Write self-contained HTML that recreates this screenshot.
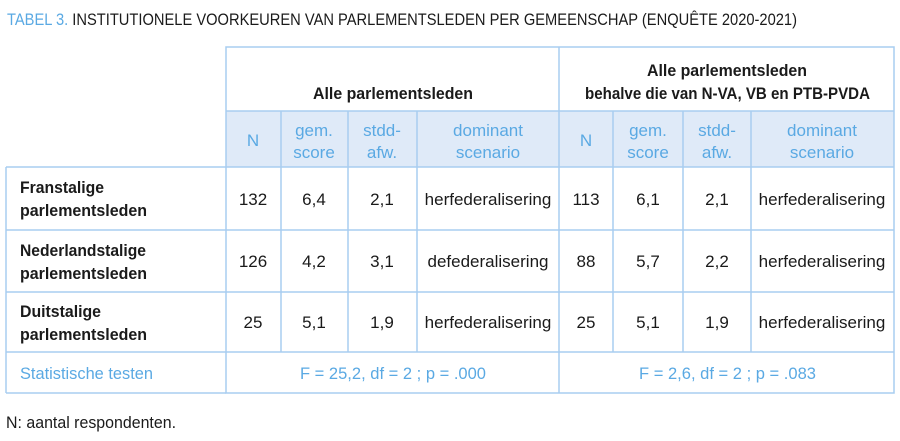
<!DOCTYPE html>
<html><head><meta charset="utf-8"><style>
html,body{margin:0;padding:0;background:#fff;width:900px;height:441px;overflow:hidden}
svg{display:block}
text{font-family:"Liberation Sans Narrow","Liberation Sans",sans-serif;font-size:17px;fill:#1a1a1a}
.b{fill:#5aa9e3}
.m{text-anchor:middle}
.h{font-weight:bold}
</style></head><body>
<svg width="900" height="441" viewBox="0 0 900 441">
<text x="7" y="25" textLength="790" lengthAdjust="spacingAndGlyphs" font-size="20"><tspan class="b">TABEL 3.</tspan> INSTITUTIONELE VOORKEUREN VAN PARLEMENTSLEDEN PER GEMEENSCHAP (ENQUÊTE 2020-2021)</text>
<rect x="226" y="111" width="668" height="56" fill="#dfeaf8"/>
<g stroke="#a9cdf0" stroke-width="1.5" fill="none">
<rect x="226" y="47" width="668" height="346"/>
<line x1="6" y1="167" x2="894" y2="167"/>
<line x1="6" y1="167" x2="6" y2="393"/>
<line x1="6" y1="393" x2="226" y2="393"/>
<line x1="226" y1="111" x2="894" y2="111"/>
<line x1="6" y1="230" x2="894" y2="230"/>
<line x1="6" y1="292" x2="894" y2="292"/>
<line x1="6" y1="352" x2="894" y2="352"/>
<line x1="559" y1="47" x2="559" y2="393"/>
<line x1="281" y1="111" x2="281" y2="352"/>
<line x1="348" y1="111" x2="348" y2="352"/>
<line x1="417" y1="111" x2="417" y2="352"/>
<line x1="613" y1="111" x2="613" y2="352"/>
<line x1="683" y1="111" x2="683" y2="352"/>
<line x1="751" y1="111" x2="751" y2="352"/>
</g>
<text class="h" x="313" y="99" textLength="160" lengthAdjust="spacingAndGlyphs">Alle parlementsleden</text>
<text class="h" x="647" y="76" textLength="160" lengthAdjust="spacingAndGlyphs">Alle parlementsleden</text>
<text class="h" x="585" y="99" textLength="285" lengthAdjust="spacingAndGlyphs">behalve die van N-VA, VB en PTB-PVDA</text>
<g>
<text class="b m" x="253" y="146">N</text>
<text class="b m" x="314" y="136">gem.</text><text class="b m" x="314" y="158">score</text>
<text class="b m" x="382" y="136">stdd-</text><text class="b m" x="382" y="158">afw.</text>
<text class="b m" x="488" y="136">dominant</text><text class="b m" x="488" y="158">scenario</text>
<text class="b m" x="586" y="146">N</text>
<text class="b m" x="648" y="136">gem.</text><text class="b m" x="648" y="158">score</text>
<text class="b m" x="717" y="136">stdd-</text><text class="b m" x="717" y="158">afw.</text>
<text class="b m" x="822" y="136">dominant</text><text class="b m" x="822" y="158">scenario</text>
</g>
<text class="h" x="20" y="193" textLength="84" lengthAdjust="spacingAndGlyphs">Franstalige</text><text class="h" x="20" y="216" textLength="127" lengthAdjust="spacingAndGlyphs">parlementsleden</text>
<text class="h" x="20" y="256" textLength="126" lengthAdjust="spacingAndGlyphs">Nederlandstalige</text><text class="h" x="20" y="279" textLength="127" lengthAdjust="spacingAndGlyphs">parlementsleden</text>
<text class="h" x="20" y="317" textLength="81" lengthAdjust="spacingAndGlyphs">Duitstalige</text><text class="h" x="20" y="340" textLength="127" lengthAdjust="spacingAndGlyphs">parlementsleden</text>
<g>
<text class="m" x="253" y="205">132</text><text class="m" x="314" y="205">6,4</text><text class="m" x="382" y="205">2,1</text><text class="m" x="488" y="205">herfederalisering</text>
<text class="m" x="586" y="205">113</text><text class="m" x="648" y="205">6,1</text><text class="m" x="717" y="205">2,1</text><text class="m" x="822" y="205">herfederalisering</text>
<text class="m" x="253" y="267">126</text><text class="m" x="314" y="267">4,2</text><text class="m" x="382" y="267">3,1</text><text class="m" x="488" y="267">defederalisering</text>
<text class="m" x="586" y="267">88</text><text class="m" x="648" y="267">5,7</text><text class="m" x="717" y="267">2,2</text><text class="m" x="822" y="267">herfederalisering</text>
<text class="m" x="253" y="328">25</text><text class="m" x="314" y="328">5,1</text><text class="m" x="382" y="328">1,9</text><text class="m" x="488" y="328">herfederalisering</text>
<text class="m" x="586" y="328">25</text><text class="m" x="648" y="328">5,1</text><text class="m" x="717" y="328">1,9</text><text class="m" x="822" y="328">herfederalisering</text>
</g>
<text class="b" x="20" y="379" textLength="133" lengthAdjust="spacingAndGlyphs">Statistische testen</text>
<text class="b" x="300" y="379" textLength="186" lengthAdjust="spacingAndGlyphs">F = 25,2, df = 2 ; p = .000</text>
<text class="b" x="639" y="379" textLength="177" lengthAdjust="spacingAndGlyphs">F = 2,6, df = 2 ; p = .083</text>
<text x="6" y="428" textLength="170" lengthAdjust="spacingAndGlyphs">N: aantal respondenten.</text>
</svg>
</body></html>
